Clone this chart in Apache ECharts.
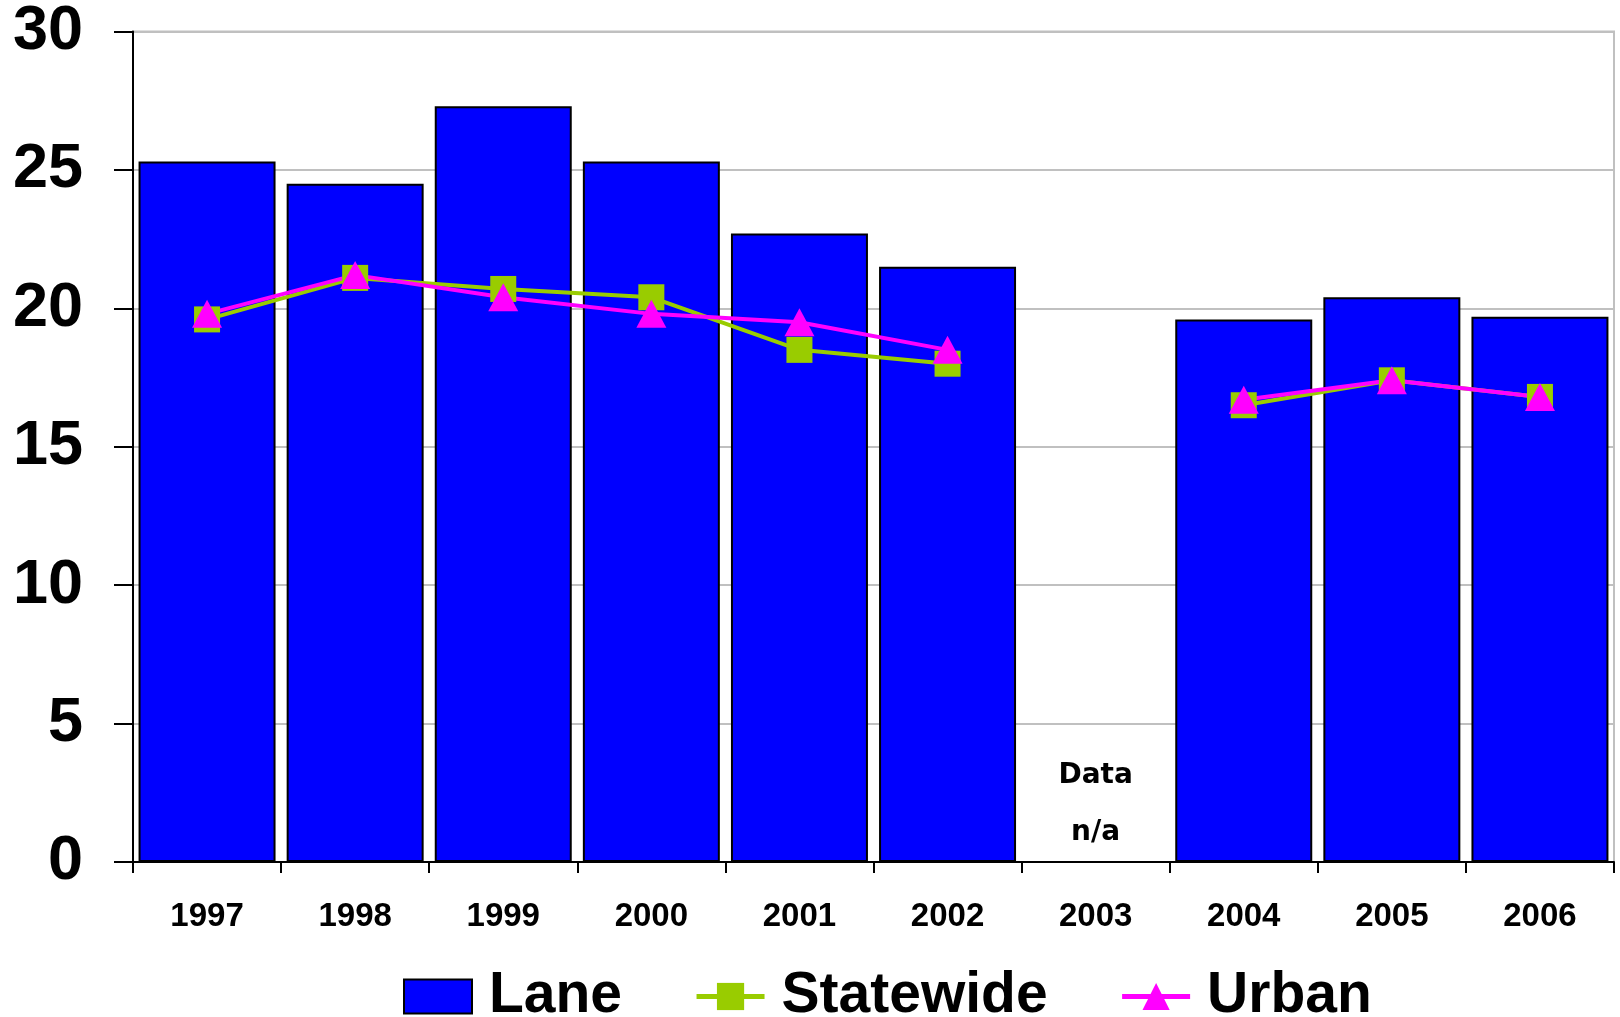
<!DOCTYPE html>
<html>
<head>
<meta charset="utf-8">
<script src="https://cdn.jsdelivr.net/npm/echarts@6/dist/echarts.min.js"></script>
<style>
html,body{margin:0;padding:0;background:#fff;}
#chart{width:1620px;height:1017px;}
</style>
</head>
<body>
<div id="chart"></div>
<script>
const years = ['1997','1998','1999','2000','2001','2002','2003','2004','2005','2006'];
const lane = [25.3, 24.5, 27.3, 25.3, 22.7, 21.5, null, 19.6, 20.4, 19.7];
const statewide = [19.6, 21.1, 20.7, 20.4, 18.5, 18.0, null, 16.5, 17.4, 16.8];
const urban = [19.8, 21.2, 20.4, 19.8, 19.5, 18.5, null, 16.7, 17.4, 16.8];
const yTicks = [0, 5, 10, 15, 20, 25, 30];
const naYear = '2003';
const naNote = 'Data\nn/a';

const chart = echarts.init(document.getElementById('chart'));
const font = '"Liberation Sans", Arial, sans-serif';
chart.setOption({
  animation: false,
  backgroundColor: '#ffffff',
  grid: {left: 133, right: 6, top: 31, bottom: 155, show: true, borderColor: '#c0c0c0', borderWidth: 2, containLabel: false},
  legend: {
    left: 403, top: 968, padding: 0,
    itemWidth: 68, itemHeight: 34, itemGap: 72,
    lineStyle: {width: 5},
    textStyle: {fontFamily: font, fontWeight: 'bold', fontSize: 57, color: '#000', padding: [0, 0, 0, 12]},
    data: [{name: 'Lane', icon: 'rect'}, 'Statewide', 'Urban']
  },
  xAxis: {
    type: 'category', data: years,
    axisLine: {lineStyle: {color: '#000', width: 2}},
    axisTick: {show: true, length: 11, lineStyle: {color: '#000', width: 2}},
    axisLabel: {color: '#000', fontFamily: font, fontWeight: 'bold', fontSize: 33, margin: 38},
    splitLine: {show: false}
  },
  yAxis: {
    type: 'value', min: yTicks[0], max: yTicks[yTicks.length - 1], interval: 5,
    axisLine: {show: true, lineStyle: {color: '#000', width: 2}},
    axisTick: {show: true, inside: false, length: 19, lineStyle: {color: '#000', width: 2}},
    axisLabel: {color: '#000', fontFamily: font, fontWeight: 'bold', fontSize: 63, margin: 50},
    splitLine: {show: true, lineStyle: {color: '#c0c0c0', width: 2}}
  },
  series: [
    {
      name: 'Lane', type: 'bar', data: lane, barCategoryGap: '7.5%',
      itemStyle: {color: '#0000ff', borderColor: '#000', borderWidth: 2},
      markPoint: {
        symbol: 'rect', symbolSize: 0,
        data: [{coord: [naYear, 2.1], value: 0}],
        label: {show: true, formatter: naNote, color: '#000', fontFamily: '"DejaVu Sans", Verdana, sans-serif', fontWeight: 'bold', fontSize: 28, lineHeight: 57, position: 'inside'}
      }
    },
    {
      name: 'Statewide', type: 'line', data: statewide, connectNulls: false,
      symbol: 'rect', symbolSize: 26, showAllSymbol: true,
      lineStyle: {color: '#99cc00', width: 4},
      itemStyle: {color: '#99cc00'}
    },
    {
      name: 'Urban', type: 'line', data: urban, connectNulls: false,
      symbol: 'triangle', symbolSize: [30, 28], showAllSymbol: true,
      lineStyle: {color: '#ff00ff', width: 4},
      itemStyle: {color: '#ff00ff'}
    }
  ]
});
</script>
</body>
</html>
